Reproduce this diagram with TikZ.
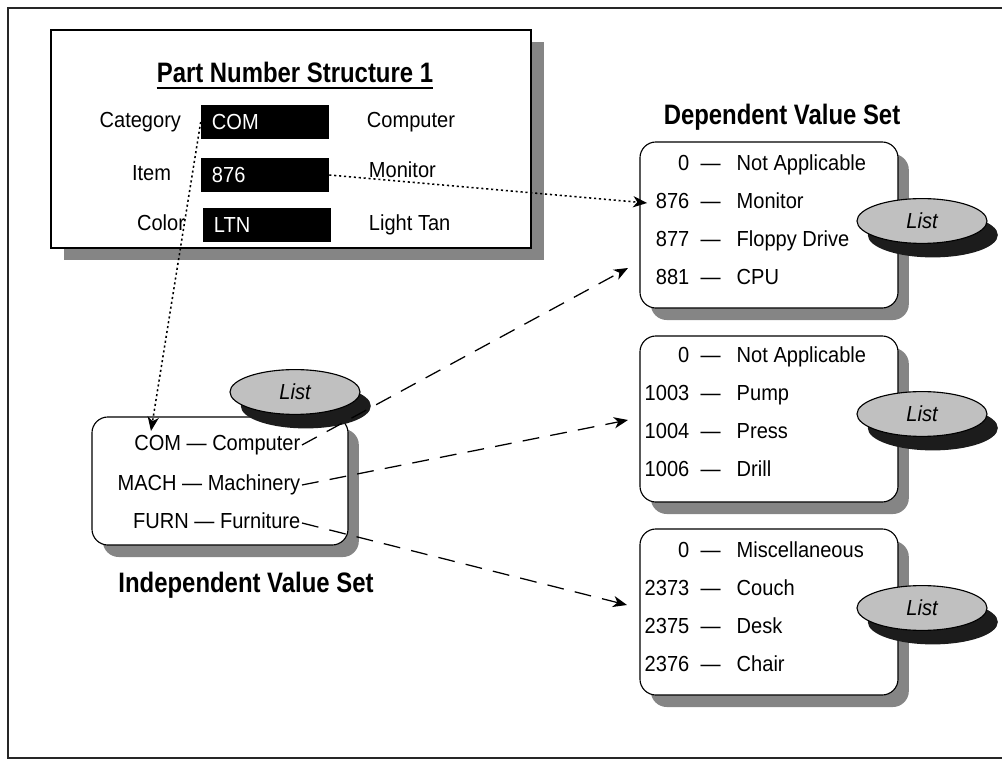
\documentclass[tikz,border=0pt]{standalone}
\usepackage{fontspec}
\setmainfont{Liberation Sans}[FakeStretch=0.92]
\newfontfamily\headfont{Liberation Sans}[FakeStretch=0.85]
\usepackage{xcolor}
\usepackage{tikz}
\usetikzlibrary{arrows.meta,positioning,shadows,shapes.geometric}
\definecolor{shadowgray}{HTML}{858585}
\definecolor{listgray}{HTML}{C0C0C0}
\definecolor{listshade}{HTML}{1C1C1C}
\tikzset{
  outerframe/.style={draw=black!85, line width=1.6pt},
  partbox/.style={draw, line width=1.2pt, fill=white, minimum width=12cm, minimum height=5.45cm,
    drop shadow={shadow xshift=0.33cm, shadow yshift=-0.3cm, fill=shadowgray, opacity=1}},
  valbox/.style={draw, rounded corners=0.4cm, line width=0.8pt, fill=white, minimum width=6.45cm, minimum height=4.15cm,
    drop shadow={shadow xshift=0.27cm, shadow yshift=-0.3cm, fill=shadowgray, opacity=1}},
  field/.style={fill=black, text=white, text width=2.65cm, inner xsep=0.275cm, minimum height=0.83cm, align=left,
    font=\fontsize{15.5}{18}\selectfont},
  entry/.style={font=\fontsize{15.5}{18}\selectfont, inner sep=1pt, text height=11pt, text depth=3pt},
  heading/.style={font=\fontsize{20}{24}\headfont\bfseries, inner sep=0pt},
  listtag/.style={ellipse, draw, line width=0.8pt, fill=listgray, minimum width=3.25cm, minimum height=1.12cm,
    font=\fontsize{15.5}{18}\selectfont\itshape,
    drop shadow={shadow xshift=0.27cm, shadow yshift=-0.35cm, fill=listshade, opacity=1}},
  dotline/.style={-{Stealth[length=10pt, width=8pt, inset=3pt]}, line width=1.1pt, dash pattern=on 1.5pt off 2pt},
  dashline/.style={-{Stealth[length=10pt, width=8pt, inset=3pt]}, line width=0.9pt, dash pattern=on 12pt off 8pt}
}

\begin{document}
\begin{tikzpicture}[x=0.025cm, y=-0.025cm]
  \useasboundingbox (0,0) rectangle (1002,761);
  \draw[outerframe] (8,8) rectangle (1015,758);

  % part number structure
  \node[partbox] (pns) at (291,139) {};
  \node[heading] (pnstitle) at (295,72) {Part Number Structure 1};
  \draw[line width=1pt] ([yshift=-4.3pt]pnstitle.base west) -- ([yshift=-4.3pt]pnstitle.base east);

  \node[field] (catfield) at (265,122) {COM};
  \node[field] (itemfield) at (265,175) {876};
  \node[field] (colfield) at (267,225) {LTN};

  \node[entry, left=0.45cm of catfield] (catlbl) {Category};
  \node[entry, left=0.7cm of itemfield] (itemlbl) {Item};
  \node[entry, left=0.4cm of colfield] (collbl) {Color};
  \node[entry, right=0.9cm of catfield] (catval) {Computer};
  \node[entry, right=0.95cm of itemfield, yshift=2pt] (itemval) {Monitor};
  \node[entry, right=0.9cm of colfield] (colval) {Light Tan};

  % independent value set
  \node[valbox, minimum width=6.4cm, minimum height=3.2cm] (indep) at (220,481) {};
  \node[entry, anchor=east] (com) at (302,445) {COM \textemdash\ Computer};
  \node[entry, anchor=east] (mach) at (302,485) {MACH \textemdash\ Machinery};
  \node[entry, anchor=east] (furn) at (302,523) {FURN \textemdash\ Furniture};
  \node[listtag] (indeplist) at (295,392) {List};
  \node[heading] (indeptitle) at (246,585) {Independent Value Set};

  % dependent value sets
  \node[heading] (deptitle) at (782,117) {Dependent Value Set};
  \foreach \c/\y in {1/225, 2/419, 3/612} {
    \node[valbox] (dep\c) at (769,\y) {};
  }
  \foreach \n/\w [count=\i] in {0/Not Applicable, 876/Monitor, 877/Floppy Drive, 881/CPU} {
    \node[entry, anchor=east] (a\i) at (691,127+38*\i) {\n};
    \node[entry, anchor=west] (aw\i) at (699,127+38*\i) {\textemdash\hspace{0.4cm}\w};
  }
  \foreach \n/\w [count=\i] in {0/Not Applicable, 1003/Pump, 1004/Press, 1006/Drill} {
    \node[entry, anchor=east] (b\i) at (691,319+38*\i) {\n};
    \node[entry, anchor=west] (bw\i) at (699,319+38*\i) {\textemdash\hspace{0.4cm}\w};
  }
  \foreach \n/\w [count=\i] in {0/Miscellaneous, 2373/Couch, 2375/Desk, 2376/Chair} {
    \node[entry, anchor=east] (c\i) at (691,514+38*\i) {\n};
    \node[entry, anchor=west] (cw\i) at (699,514+38*\i) {\textemdash\hspace{0.4cm}\w};
  }
  \foreach \c/\y in {1/221, 2/414, 3/608} {
    \node[listtag] (list\c) at (922,\y) {List};
  }

  % connectors
  \coordinate (catin) at (151,431);
  \coordinate (cputo) at (628,268);
  \coordinate (pressto) at (628,420);
  \coordinate (couchto) at (627,605);
  \draw[dotline] (catfield.west) -- (catin);
  \draw[dotline] (itemfield.east) -- ([xshift=-5pt]a2.west);
  \draw[dashline] (com.east) -- (cputo);
  \draw[dashline] (mach.east) -- (pressto);
  \draw[dashline] (furn.east) -- (couchto);
\end{tikzpicture}
\end{document}
